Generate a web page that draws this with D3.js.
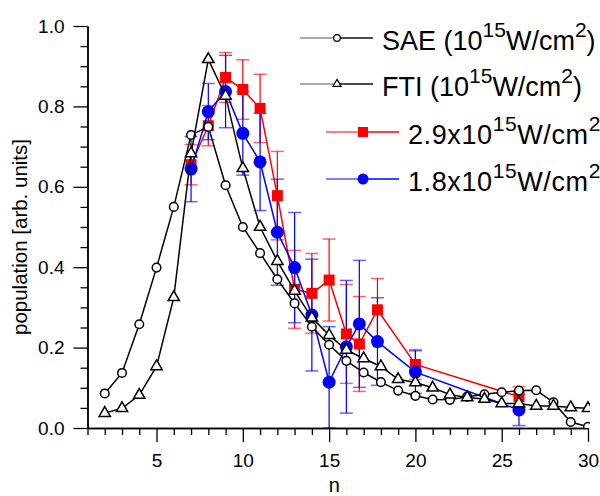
<!DOCTYPE html>
<html>
<head>
<meta charset="utf-8">
<script src="https://cdn.jsdelivr.net/npm/d3@7"></script>
<style>
body { margin: 0; background: #fff; }
svg { font-family: Arial, "Liberation Sans", sans-serif; }
</style>
</head>
<body>
<script>
// theory curves, n = 2..30
var nTheory = [2, 3, 4, 5, 6, 7, 8, 9, 10, 11, 12, 13, 14, 15, 16, 17, 18, 19, 20, 21, 22, 23, 24, 25, 26, 27, 28, 29, 30];
var sae = [0.086, 0.137, 0.258, 0.399, 0.55, 0.729, 0.749, 0.604, 0.50, 0.435, 0.37, 0.31, 0.252, 0.207, 0.167, 0.138, 0.114, 0.093, 0.080, 0.071, 0.070, 0.078, 0.084, 0.089, 0.093, 0.094, 0.064, 0.015, 0.003];
var fti = [0.037, 0.049, 0.082, 0.153, 0.325, 0.683, 0.917, 0.826, 0.646, 0.50, 0.415, 0.341, 0.274, 0.231, 0.194, 0.173, 0.153, 0.121, 0.113, 0.100, 0.083, 0.076, 0.072, 0.061, 0.061, 0.055, 0.055, 0.051, 0.049];

// experiment
var nExp = [7, 8, 9, 10, 11, 12, 13, 14, 15, 16, 16.75, 17.8, 20, 26];
var high = [0.655, 0.752, 0.872, 0.842, 0.795, 0.578, 0.345, 0.335, 0.368, 0.234, 0.209, 0.294, 0.158, 0.078];
var highErr = [0.05, 0.05, 0.062, 0.074, 0.085, 0.11, 0.097, 0.099, 0.102, 0.123, 0.118, 0.078, 0.037, 0.025];
var low = [0.644, 0.787, 0.837, 0.733, 0.662, 0.487, 0.399, 0.281, 0.114, 0.202, 0.259, 0.215, 0.139, 0.045];
var lowErr = [0.081, 0.07, 0.09, 0.104, 0.121, 0.132, 0.137, 0.139, 0.138, 0.165, 0.158, 0.109, 0.053, 0.039];

var xMajor = [5, 10, 15, 20, 25, 30];
var xMinor = [1, 2, 3, 4, 6, 7, 8, 9, 11, 12, 13, 14, 16, 17, 18, 19, 21, 22, 23, 24, 26, 27, 28, 29];
var yMajor = [0, 0.2, 0.4, 0.6, 0.8, 1.0];
var yMinor = [0.05, 0.1, 0.15, 0.25, 0.3, 0.35, 0.45, 0.5, 0.55, 0.65, 0.7, 0.75, 0.85, 0.9, 0.95];

var width = 600, height = 496;
var plotL = 87.5, plotR = 588, plotT = 26, plotB = 428;

var svg = d3.select("body").append("svg")
  .attr("width", width)
  .attr("height", height);

var x = d3.scaleLinear().domain([1, 30]).range([plotL, plotR]);
var y = d3.scaleLinear().domain([0, 1]).range([plotB, plotT]);

// axes
var gx = svg.append("g").attr("transform", `translate(0,${plotB})`);
gx.call(d3.axisBottom(x).tickValues(xMinor).tickSize(7).tickSizeOuter(0).tickFormat(""));
gx.append("g").call(d3.axisBottom(x).tickValues(xMajor).tickSize(14).tickSizeOuter(0).tickPadding(12));

var gy = svg.append("g").attr("transform", `translate(${plotL},0)`);
gy.call(d3.axisLeft(y).tickValues(yMinor).tickSize(7).tickSizeOuter(0).tickFormat(""));
gy.append("g").call(d3.axisLeft(y).tickValues(yMajor).tickSize(14).tickSizeOuter(0).tickPadding(9).tickFormat(d3.format(".1f")));

svg.selectAll(".domain").attr("stroke", "#000").attr("stroke-width", 1.5);
svg.selectAll(".tick line").attr("stroke", "#000").attr("stroke-width", 1.3);
svg.selectAll(".tick text").attr("font-size", 19).attr("fill", "#000")
  .attr("font-family", "Arial, 'Liberation Sans', sans-serif");

svg.append("text")
  .attr("x", x(15.3)).attr("y", 492)
  .attr("text-anchor", "middle")
  .attr("font-size", 20)
  .text("n");

svg.append("text")
  .attr("transform", `translate(27,${(plotT + plotB) / 2 + 10}) rotate(-90)`)
  .attr("text-anchor", "middle")
  .attr("font-size", 20.5)
  .text("population [arb. units]");

// plot area, clipped at the axes
svg.append("clipPath").attr("id", "clip")
  .append("rect").attr("x", plotL).attr("y", 0).attr("width", plotR - plotL + 2).attr("height", plotB);
var plot = svg.append("g").attr("clip-path", "url(#clip)");

var line = d3.line().x(d => x(d[0])).y(d => y(d[1]));

function errorBars(vals, errs, color) {
  var g = plot.append("g");
  nExp.forEach(function (n, i) {
    var lo = Math.max(0, vals[i] - errs[i]), hi = vals[i] + errs[i];
    g.append("line").attr("x1", x(n)).attr("x2", x(n)).attr("y1", y(lo)).attr("y2", y(hi))
      .attr("stroke", color).attr("stroke-width", 1.2);
    [lo, hi].forEach(function (v) {
      g.append("line").attr("x1", x(n) - 6.5).attr("x2", x(n) + 6.5).attr("y1", y(v)).attr("y2", y(v))
        .attr("stroke", color).attr("stroke-width", 1.5).attr("opacity", 0.6);
    });
  });
}

errorBars(high, highErr, "#ff0000");
errorBars(low, lowErr, "#0000ff");

// red squares
plot.append("path").datum(nExp.map((n, i) => [n, high[i]]))
  .attr("d", line).attr("fill", "none").attr("stroke", "#ff0000").attr("stroke-width", 1.5);
plot.selectAll(".sq").data(nExp).enter().append("rect")
  .attr("x", (n) => x(n) - 5.5).attr("y", (n, i) => y(high[i]) - 5.5)
  .attr("width", 11).attr("height", 11).attr("fill", "#ff0000");

// blue circles
plot.append("path").datum(nExp.map((n, i) => [n, low[i]]))
  .attr("d", line).attr("fill", "none").attr("stroke", "#0000ff").attr("stroke-width", 1.5);
plot.selectAll(".bc").data(nExp).enter().append("circle")
  .attr("cx", (n) => x(n)).attr("cy", (n, i) => y(low[i]))
  .attr("r", 6.5).attr("fill", "#0000ff");

// SAE
plot.append("path").datum(nTheory.map((n, i) => [n, sae[i]]))
  .attr("d", line).attr("fill", "none").attr("stroke", "#000").attr("stroke-width", 1.5);
plot.selectAll(".oc").data(nTheory).enter().append("circle")
  .attr("cx", (n) => x(n)).attr("cy", (n, i) => y(sae[i]))
  .attr("r", 4.3).attr("fill", "#fff").attr("stroke", "#000").attr("stroke-width", 1.5);

// FTI
var tri = d3.symbol().type(d3.symbolTriangle).size(55);
plot.append("path").datum(nTheory.map((n, i) => [n, fti[i]]))
  .attr("d", line).attr("fill", "none").attr("stroke", "#000").attr("stroke-width", 1.5);
plot.selectAll(".tr").data(nTheory).enter().append("path")
  .attr("d", tri)
  .attr("transform", (n, i) => `translate(${x(n)},${y(fti[i])})`)
  .attr("fill", "#fff").attr("stroke", "#000").attr("stroke-width", 1.5);

// legend
var legendRows = [
  { y: 38, x0: 300, label: "SAE (10", mid: "W/cm", tail: ")", kind: "sae", color: "#000" },
  { y: 84, x0: 300, label: "FTI (10", mid: "W/cm", tail: ")", kind: "fti", color: "#000" },
  { y: 132, x0: 326, label: "2.9x10", mid: "W/cm", tail: "", kind: "high", color: "#ff0000" },
  { y: 179, x0: 326, label: "1.8x10", mid: "W/cm", tail: "", kind: "low", color: "#0000ff" }
];

legendRows.forEach(function (r) {
  var g = svg.append("g");
  var dark = r.kind == "sae" || r.kind == "fti";
  g.append("line").attr("x1", r.x0).attr("x2", r.x0 + 37).attr("y1", r.y).attr("y2", r.y)
    .attr("stroke", dark ? "#555" : r.color).attr("stroke-width", 1.2);
  g.append("line").attr("x1", r.x0 + 37).attr("x2", r.x0 + 73).attr("y1", r.y).attr("y2", r.y)
    .attr("stroke", dark ? "#111" : r.color).attr("stroke-width", 1.6);
  var mx = r.x0 + 37;
  if (r.kind == "sae") {
    g.append("circle").attr("cx", mx).attr("cy", r.y).attr("r", 3.3).attr("fill", "#fff").attr("stroke", "#000").attr("stroke-width", 1.2);
  } else if (r.kind == "fti") {
    g.append("path").attr("d", d3.symbol().type(d3.symbolTriangle).size(28))
      .attr("transform", `translate(${mx},${r.y})`).attr("fill", "#fff").attr("stroke", "#000").attr("stroke-width", 1.2);
  } else if (r.kind == "high") {
    g.append("rect").attr("x", mx - 5).attr("y", r.y - 5).attr("width", 10).attr("height", 10).attr("fill", r.color);
  } else {
    g.append("circle").attr("cx", mx).attr("cy", r.y).attr("r", 5.5).attr("fill", r.color);
  }
  var t = g.append("text").attr("x", r.x0 + 82).attr("y", r.y + 12).attr("font-size", 27).attr("fill", "#000");
  if (!dark) t.attr("letter-spacing", 0.6);
  t.append("tspan").text(r.label);
  t.append("tspan").attr("font-size", 21).attr("dy", -13).text("15");
  t.append("tspan").attr("dy", 13).text(r.mid);
  t.append("tspan").attr("font-size", 21).attr("dy", -13).text("2");
  if (r.tail) t.append("tspan").attr("dy", 13).text(r.tail);
});
</script>
</body>
</html>
